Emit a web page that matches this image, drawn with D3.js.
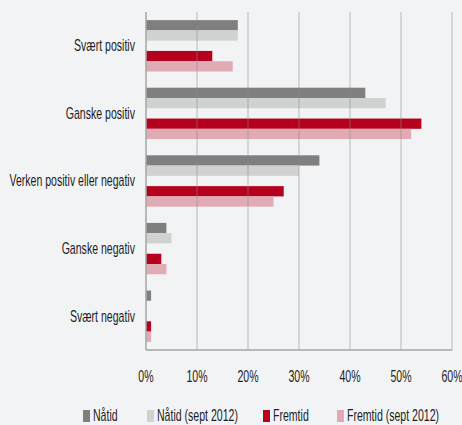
<!DOCTYPE html>
<html>
<head>
<meta charset="utf-8">
<script src="https://d3js.org/d3.v7.min.js"></script>
<style>
  body { margin: 0; background: #f2f3f5; }
  text { font-family: "Liberation Sans", Arial, sans-serif; fill: #1e1e1e; font-size: 16px; }
</style>
</head>
<body>
<svg id="chart" width="462" height="425"></svg>
<script>
var categories = ["Svært positiv", "Ganske positiv", "Verken positiv eller negativ", "Ganske negativ", "Svært negativ"];
var seriesNames = ["Nåtid", "Nåtid (sept 2012)", "Fremtid", "Fremtid (sept 2012)"];
var seriesColors = ["#7f7f7f", "#d0d1d1", "#b5001e", "#e0abb4"];
var natid =       [18, 43, 34, 4, 1];
var natidSept =   [18, 47, 30, 5, 0];
var fremtid =     [13, 54, 27, 3, 1];
var fremtidSept = [17, 52, 25, 4, 1];
var ticks = [0, 10, 20, 30, 40, 50, 60];

var values = [natid, natidSept, fremtid, fremtidSept];
// slot positions inside each band: one empty slot between Nåtid and Fremtid groups
var slots = ["s0", "s1", "gap", "s2", "s3"];
var slotKey = ["s0", "s1", "s2", "s3"];

// the original uses a narrow font; squeeze a regular one horizontally
var squeeze = 0.66;
function place(x0, y0) { return "translate(" + x0 + "," + y0 + ") scale(" + squeeze + ",1)"; }

var svg = d3.select("#chart");
var plotL = 146, plotR = 452, plotT = 12, plotB = 350;

var x = d3.scaleLinear().domain([0, 60]).range([plotL, plotR]);
var y = d3.scaleBand().domain(categories).range([plotT, plotB]).paddingInner(0.24).paddingOuter(0.12);
var ySlot = d3.scaleBand().domain(slots).range([0, y.bandwidth()]);

var rows = [];
categories.forEach(function(c, ci) {
  values.forEach(function(v, si) {
    rows.push({cat: c, s: si, v: v[ci]});
  });
});

svg.append("g").selectAll("rect")
  .data(rows)
  .enter().append("rect")
  .attr("x", x(0))
  .attr("y", function(d) { return y(d.cat) + ySlot(slotKey[d.s]); })
  .attr("width", function(d) { return x(d.v) - x(0); })
  .attr("height", ySlot.bandwidth())
  .attr("fill", function(d) { return seriesColors[d.s]; });

// gridlines on top of bars, like the original
svg.append("g").selectAll("line")
  .data(ticks.slice(1))
  .enter().append("line")
  .attr("x1", function(d) { return x(d); })
  .attr("x2", function(d) { return x(d); })
  .attr("y1", plotT)
  .attr("y2", plotB)
  .attr("stroke", "#8c8c8c")
  .attr("stroke-opacity", 0.55)
  .attr("stroke-width", 1);

svg.append("line")
  .attr("x1", x(0)).attr("x2", x(0)).attr("y1", plotT).attr("y2", plotB)
  .attr("stroke", "#a6a6a6").attr("stroke-width", 1.5);
svg.append("line")
  .attr("x1", x(0)).attr("x2", x(60)).attr("y1", plotB).attr("y2", plotB)
  .attr("stroke", "#a6a6a6").attr("stroke-width", 1.5);

svg.append("g").selectAll("text")
  .data(ticks)
  .enter().append("text")
  .attr("transform", function(d) { return place(x(d), 377); })
  .attr("text-anchor", "middle")
  .attr("dominant-baseline", "central")
  .text(function(d) { return d + "%"; });

svg.append("g").selectAll("text")
  .data(categories)
  .enter().append("text")
  .attr("transform", function(d) { return place(135, y(d) + y.bandwidth() / 2); })
  .attr("text-anchor", "end")
  .attr("dominant-baseline", "central")
  .text(function(d) { return d; });

var legendX = [83, 147, 263, 337];
var lg = svg.append("g").selectAll("g")
  .data(seriesNames)
  .enter().append("g")
  .attr("transform", function(d, i) { return "translate(" + legendX[i] + ",410)"; });
lg.append("rect")
  .attr("width", 7).attr("height", 12)
  .attr("fill", function(d, i) { return seriesColors[i]; });
lg.append("text")
  .attr("transform", place(10, 6))
  .attr("dominant-baseline", "central")
  .text(function(d) { return d; });
</script>
</body>
</html>
